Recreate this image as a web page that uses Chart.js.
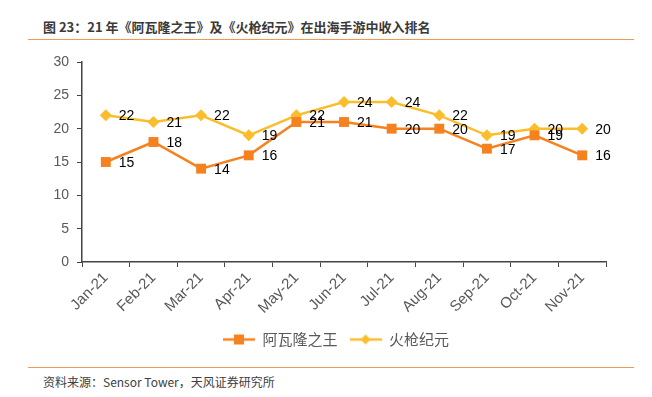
<!DOCTYPE html>
<html>
<head>
<meta charset="utf-8">
<script src="https://cdn.jsdelivr.net/npm/chart.js@4/dist/chart.umd.min.js"></script>
<style>
  body { margin: 0; background: #fff; width: 652px; height: 397px; overflow: hidden; position: relative; font-family: "Liberation Sans", "Noto Sans CJK SC", sans-serif; }
  #title { position: absolute; left: 43px; top: 17px; font-size: 13px; font-weight: bold; color: #3a3a3a; font-family: "Noto Sans CJK SC", sans-serif; }
  .rule { position: absolute; left: 28px; width: 606px; height: 1px; background: #ec9a5a; }
  #footer { position: absolute; left: 43px; top: 373px; font-size: 12px; color: #404040; font-family: "Noto Sans CJK SC", sans-serif; }
  #wrap { position: absolute; left: 0; top: 45px; width: 652px; height: 312px; }
</style>
</head>
<body>
<div id="title">图 23：21 年《阿瓦隆之王》及《火枪纪元》在出海手游中收入排名</div>
<div class="rule" style="top:39px"></div>
<div id="wrap"><canvas id="chart"></canvas></div>
<div class="rule" style="top:367px"></div>
<div id="footer">资料来源：Sensor Tower，天风证券研究所</div>
<script>
const colorOrange = '#f5821f';
const colorYellow = '#fbbd2b';
const colorAxis = '#444444';
const colorTick = '#595959';

const months = ['Jan-21', 'Feb-21', 'Mar-21', 'Apr-21', 'May-21', 'Jun-21', 'Jul-21', 'Aug-21', 'Sep-21', 'Oct-21', 'Nov-21'];
const avalonValues = [15, 18, 14, 16, 21, 21, 20, 20, 17, 19, 16];
const musketValues = [22, 21, 22, 19, 22, 24, 24, 22, 19, 20, 20];
const seriesNames = ['阿瓦隆之王', '火枪纪元'];

// legend swatch: short line with the marker in the middle
const legendSwatch = (color, shape) => {
    const c = document.createElement('canvas');
    c.width = 32;
    c.height = 12;
    const g = c.getContext('2d');
    g.strokeStyle = color;
    g.lineWidth = 2.5;
    g.beginPath();
    g.moveTo(0, 6);
    g.lineTo(32, 6);
    g.stroke();
    g.fillStyle = color;
    if (shape === 'square') {
        g.fillRect(11, 1, 10, 10);
    } else {
        g.beginPath();
        g.moveTo(16, 1);
        g.lineTo(21, 6);
        g.lineTo(16, 11);
        g.lineTo(11, 6);
        g.closePath();
        g.fill();
    }
    return c;
};

const valueLabels = {
    id: 'valueLabels',
    afterDatasetsDraw(chart) {
        const ctx = chart.ctx;
        ctx.save();
        ctx.font = '14px "Liberation Sans", Arial, sans-serif';
        ctx.fillStyle = '#000';
        ctx.textAlign = 'left';
        ctx.textBaseline = 'middle';
        chart.data.datasets.forEach((ds, i) => {
            const meta = chart.getDatasetMeta(i);
            meta.data.forEach((pt, j) => {
                ctx.fillText(String(ds.data[j]), pt.x + 13, pt.y + 1);
            });
        });
        ctx.restore();
    }
};

// legend sits a bit right of centre in the original
const legendShift = {
    id: 'legendShift',
    afterLayout(chart) {
        chart.legend.left += 28;
        chart.legend.right += 28;
    }
};

new Chart(document.getElementById('chart').getContext('2d'), {
    type: 'line',
    data: {
        labels: months,
        datasets: [{
            label: seriesNames[0],
            data: avalonValues,
            borderColor: colorOrange,
            backgroundColor: colorOrange,
            borderWidth: 2.5,
            pointStyle: 'rect',
            pointRadius: 7,
            pointHoverRadius: 7,
            pointBorderWidth: 0,
            tension: 0
        }, {
            label: seriesNames[1],
            data: musketValues,
            borderColor: colorYellow,
            backgroundColor: colorYellow,
            borderWidth: 2.5,
            pointStyle: 'rectRot',
            pointRadius: 6,
            pointHoverRadius: 6,
            pointBorderWidth: 0,
            tension: 0
        }]
    },
    options: {
        responsive: true,
        maintainAspectRatio: false,
        animation: false,
        layout: {
            padding: { left: 10, right: 46, top: 17, bottom: 0 }
        },
        scales: {
            y: {
                min: 0,
                max: 30,
                ticks: {
                    stepSize: 5,
                    color: colorTick,
                    padding: 8,
                    font: { size: 14, family: '"Liberation Sans", Arial, sans-serif' }
                },
                grid: {
                    drawOnChartArea: false,
                    color: colorAxis,
                    tickLength: 5
                },
                border: { color: colorAxis, width: 1.5 },
                afterFit: (scale) => { scale.width = 72; }
            },
            x: {
                offset: true,
                ticks: {
                    color: colorTick,
                    minRotation: 45,
                    maxRotation: 45,
                    padding: 2,
                    font: { size: 15, family: '"Liberation Sans", Arial, sans-serif' }
                },
                grid: {
                    offset: true,
                    drawOnChartArea: false,
                    color: colorAxis,
                    tickLength: 5
                },
                border: { color: colorAxis, width: 1.5 },
                afterFit: (scale) => { scale.height = 58; }
            }
        },
        plugins: {
            tooltip: { enabled: false },
            legend: {
                position: 'bottom',
                labels: {
                    usePointStyle: true,
                    pointStyleWidth: 32,
                    color: colorTick,
                    padding: 12,
                    font: { size: 15, family: '"Noto Sans CJK SC", sans-serif' },
                    generateLabels: (chart) => chart.data.datasets.map((ds, i) => ({
                        text: ds.label,
                        fontColor: colorTick,
                        pointStyle: legendSwatch(ds.borderColor, i === 0 ? 'square' : 'diamond'),
                        datasetIndex: i,
                        hidden: false,
                        lineWidth: 0,
                        strokeStyle: 'transparent',
                        fillStyle: ds.borderColor
                    }))
                }
            }
        }
    },
    plugins: [valueLabels, legendShift]
});
</script>
</body>
</html>
